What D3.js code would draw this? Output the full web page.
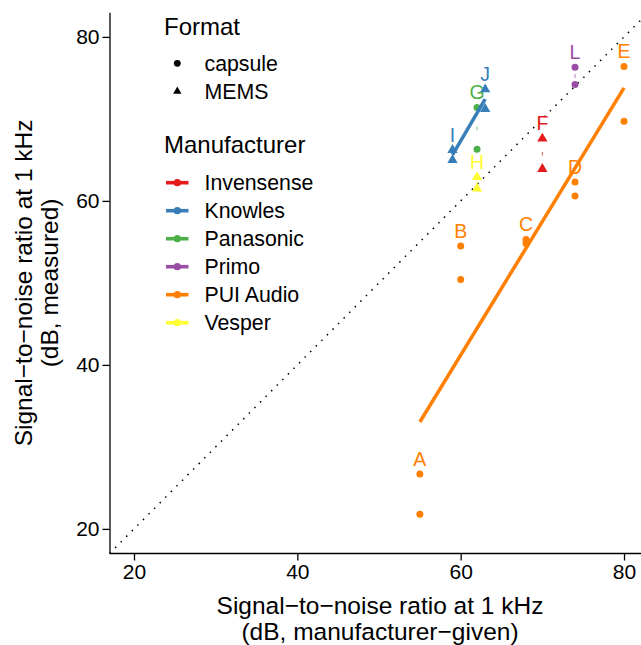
<!DOCTYPE html>
<html>
<head>
<meta charset="utf-8">
<script src="https://cdn.jsdelivr.net/npm/d3@7"></script>
<style>
  html, body { margin: 0; padding: 0; background: #fff; }
  svg { display: block; font-family: "Liberation Sans", Arial, Helvetica, sans-serif; }
</style>
</head>
<body>
<svg id="chart" width="641" height="645"></svg>
<script>
// ---- data ----
const mics = ["A", "B", "C", "D", "E", "F", "G", "H", "I", "J", "L"];
const manufacturer = ["PUI Audio", "PUI Audio", "PUI Audio", "PUI Audio", "PUI Audio",
  "Invensense", "Panasonic", "Vesper", "Knowles", "Knowles", "Primo"];
const format = ["capsule", "capsule", "capsule", "capsule", "capsule",
  "MEMS", "capsule", "MEMS", "MEMS", "MEMS", "capsule"];
const snrGiven = [55, 60, 68, 74, 80, 70, 62, 62, 59, 63, 74];
const snrMeasured1 = [26.7, 54.5, 55.3, 62.3, 76.4, 67.6, 71.4, 62.9, 66.2, 73.6, 76.3];
const snrMeasured2 = [21.8, 50.4, 54.8, 60.6, 69.7, 63.9, 66.3, 61.5, 65.0, 71.2, 74.2];

const manufacturers = ["Invensense", "Knowles", "Panasonic", "Primo", "PUI Audio", "Vesper"];
const manuColors = ["#E41A1C", "#377EB8", "#4DAF4A", "#984EA3", "#FF7F00", "#FFFF33"];
const formats = ["capsule", "MEMS"];
const xTicks = [20, 40, 60, 80];
const yTicks = [20, 40, 60, 80];
const axisDomain = [17, 83];

// ---- setup ----
const svg = d3.select("#chart");
const panel = { left: 109.5, top: 12.3, bottom: 553.5 };
const pxPerUnitX = 8.167;
const x = d3.scaleLinear().domain(axisDomain)
  .range([panel.left, panel.left + (axisDomain[1] - axisDomain[0]) * pxPerUnitX]);
const y = d3.scaleLinear().domain(axisDomain).range([panel.bottom, panel.top]);
const color = d3.scaleOrdinal().domain(manufacturers).range(manuColors);

const points = [];
mics.forEach((m, i) => {
  [snrMeasured1[i], snrMeasured2[i]].forEach(v => points.push({
    mic: m, manu: manufacturer[i], fmt: format[i], xg: snrGiven[i], ym: v
  }));
});

svg.append("defs").append("clipPath").attr("id", "clip")
  .append("rect").attr("x", panel.left).attr("y", panel.top)
  .attr("width", 641 - panel.left).attr("height", panel.bottom - panel.top);

// identity (y = x) dotted line
svg.append("line")
  .attr("clip-path", "url(#clip)")
  .attr("x1", x(axisDomain[0])).attr("y1", y(axisDomain[0]))
  .attr("x2", x(axisDomain[1])).attr("y2", y(axisDomain[1]))
  .attr("stroke", "#000").attr("stroke-width", 1.5)
  .attr("stroke-dasharray", "1.5,6.4");

// short connectors for single-model manufacturers
const manuCount = d3.rollup(mics.map((m, i) => manufacturer[i]), v => v.length, d => d);
mics.forEach((m, i) => {
  if (manuCount.get(manufacturer[i]) !== 1) return;
  const mid = y((snrMeasured1[i] + snrMeasured2[i]) / 2);
  svg.append("line")
    .attr("x1", x(snrGiven[i])).attr("x2", x(snrGiven[i]))
    .attr("y1", mid - 1.8).attr("y2", mid + 1.8)
    .attr("stroke", color(manufacturer[i])).attr("stroke-width", 1.1)
    .attr("opacity", 0.7);
});

// points
const triSym = d3.symbol().type(d3.symbolTriangle).size(46);
const gPts = svg.append("g");
points.forEach(p => {
  if (p.fmt === "capsule") {
    gPts.append("circle").attr("cx", x(p.xg)).attr("cy", y(p.ym)).attr("r", 3.5)
      .attr("fill", color(p.manu));
  } else {
    gPts.append("path").attr("d", triSym)
      .attr("transform", `translate(${x(p.xg)},${y(p.ym)})`)
      .attr("fill", color(p.manu));
  }
});

// regression lines per manufacturer (lm)
manufacturers.forEach(mf => {
  const pts = points.filter(p => p.manu === mf);
  const xs = pts.map(p => p.xg);
  if (new Set(xs).size < 2) return;
  const mx = d3.mean(xs), my = d3.mean(pts, p => p.ym);
  const sxy = d3.sum(pts, p => (p.xg - mx) * (p.ym - my));
  const sxx = d3.sum(pts, p => (p.xg - mx) ** 2);
  const b = sxy / sxx, a = my - b * mx;
  const x0 = d3.min(xs), x1 = d3.max(xs);
  svg.append("line")
    .attr("x1", x(x0)).attr("y1", y(a + b * x0))
    .attr("x2", x(x1)).attr("y2", y(a + b * x1))
    .attr("stroke", color(mf)).attr("stroke-width", 3.5);
});

// mic labels
mics.forEach((m, i) => {
  const top = Math.max(snrMeasured1[i], snrMeasured2[i]);
  svg.append("text")
    .attr("x", x(snrGiven[i])).attr("y", y(top) - 8.3)
    .attr("text-anchor", "middle")
    .attr("font-size", 19.5)
    .attr("fill", color(manufacturer[i]))
    .text(m);
});

// axes
const xAxis = d3.axisBottom(x).tickValues(xTicks).tickSize(7).tickPadding(4).tickSizeOuter(0);
const yAxis = d3.axisLeft(y).tickValues(yTicks).tickSize(7).tickPadding(3).tickSizeOuter(0);
const gx = svg.append("g").attr("transform", `translate(0,${panel.bottom})`).call(xAxis);
const gy = svg.append("g").attr("transform", `translate(${panel.left},0)`).call(yAxis);
[gx, gy].forEach(g => {
  g.select(".domain").attr("stroke", "#000").attr("stroke-width", 1.3);
  g.selectAll(".tick line").attr("stroke", "#000").attr("stroke-width", 1.3);
  g.selectAll(".tick text").attr("fill", "#000").attr("font-size", 21)
    .attr("font-family", "Liberation Sans, Arial, sans-serif");
});
gx.select(".domain").attr("d", `M${panel.left},0H641`);
gx.selectAll(".tick text").attr("dy", "0.71em");

// axis titles
const xt = svg.append("text").attr("text-anchor", "middle").attr("font-size", 24.5).attr("fill", "#000");
xt.append("tspan").attr("x", 380).attr("y", 614).text("Signal\u2212to\u2212noise ratio at 1 kHz");
xt.append("tspan").attr("x", 380).attr("y", 640).text("(dB, manufacturer\u2212given)");

const yt = svg.append("text").attr("text-anchor", "middle").attr("font-size", 24.5).attr("fill", "#000")
  .attr("transform", `translate(0,${(panel.top + panel.bottom) / 2}) rotate(-90)`);
yt.append("tspan").attr("x", 0).attr("y", 32).text("Signal\u2212to\u2212noise ratio at 1 kHz");
yt.append("tspan").attr("x", 0).attr("y", 58).text("(dB, measured)");

// legends
const lg = svg.append("g");
lg.append("text").attr("x", 164).attr("y", 35).attr("font-size", 24).text("Format");
formats.forEach((f, i) => {
  const cy = 63.3 + i * 28;
  if (f === "capsule") {
    lg.append("circle").attr("cx", 177.3).attr("cy", cy).attr("r", 3.4).attr("fill", "#000");
  } else {
    lg.append("path").attr("d", d3.symbol().type(d3.symbolTriangle).size(30))
      .attr("transform", `translate(177.3,${cy})`).attr("fill", "#000");
  }
  lg.append("text").attr("x", 204.5).attr("y", cy + 7.6).attr("font-size", 21.3).text(f);
});
lg.append("text").attr("x", 164).attr("y", 153.3).attr("font-size", 24).text("Manufacturer");
manufacturers.forEach((mf, i) => {
  const cy = 182.7 + i * 28;
  lg.append("line").attr("x1", 166).attr("x2", 188.5).attr("y1", cy).attr("y2", cy)
    .attr("stroke", color(mf)).attr("stroke-width", 3.6);
  lg.append("circle").attr("cx", 177.3).attr("cy", cy).attr("r", 3.6).attr("fill", color(mf));
  lg.append("text").attr("x", 204.5).attr("y", cy + 7.6).attr("font-size", 21.3).text(mf);
});
</script>
</body>
</html>
